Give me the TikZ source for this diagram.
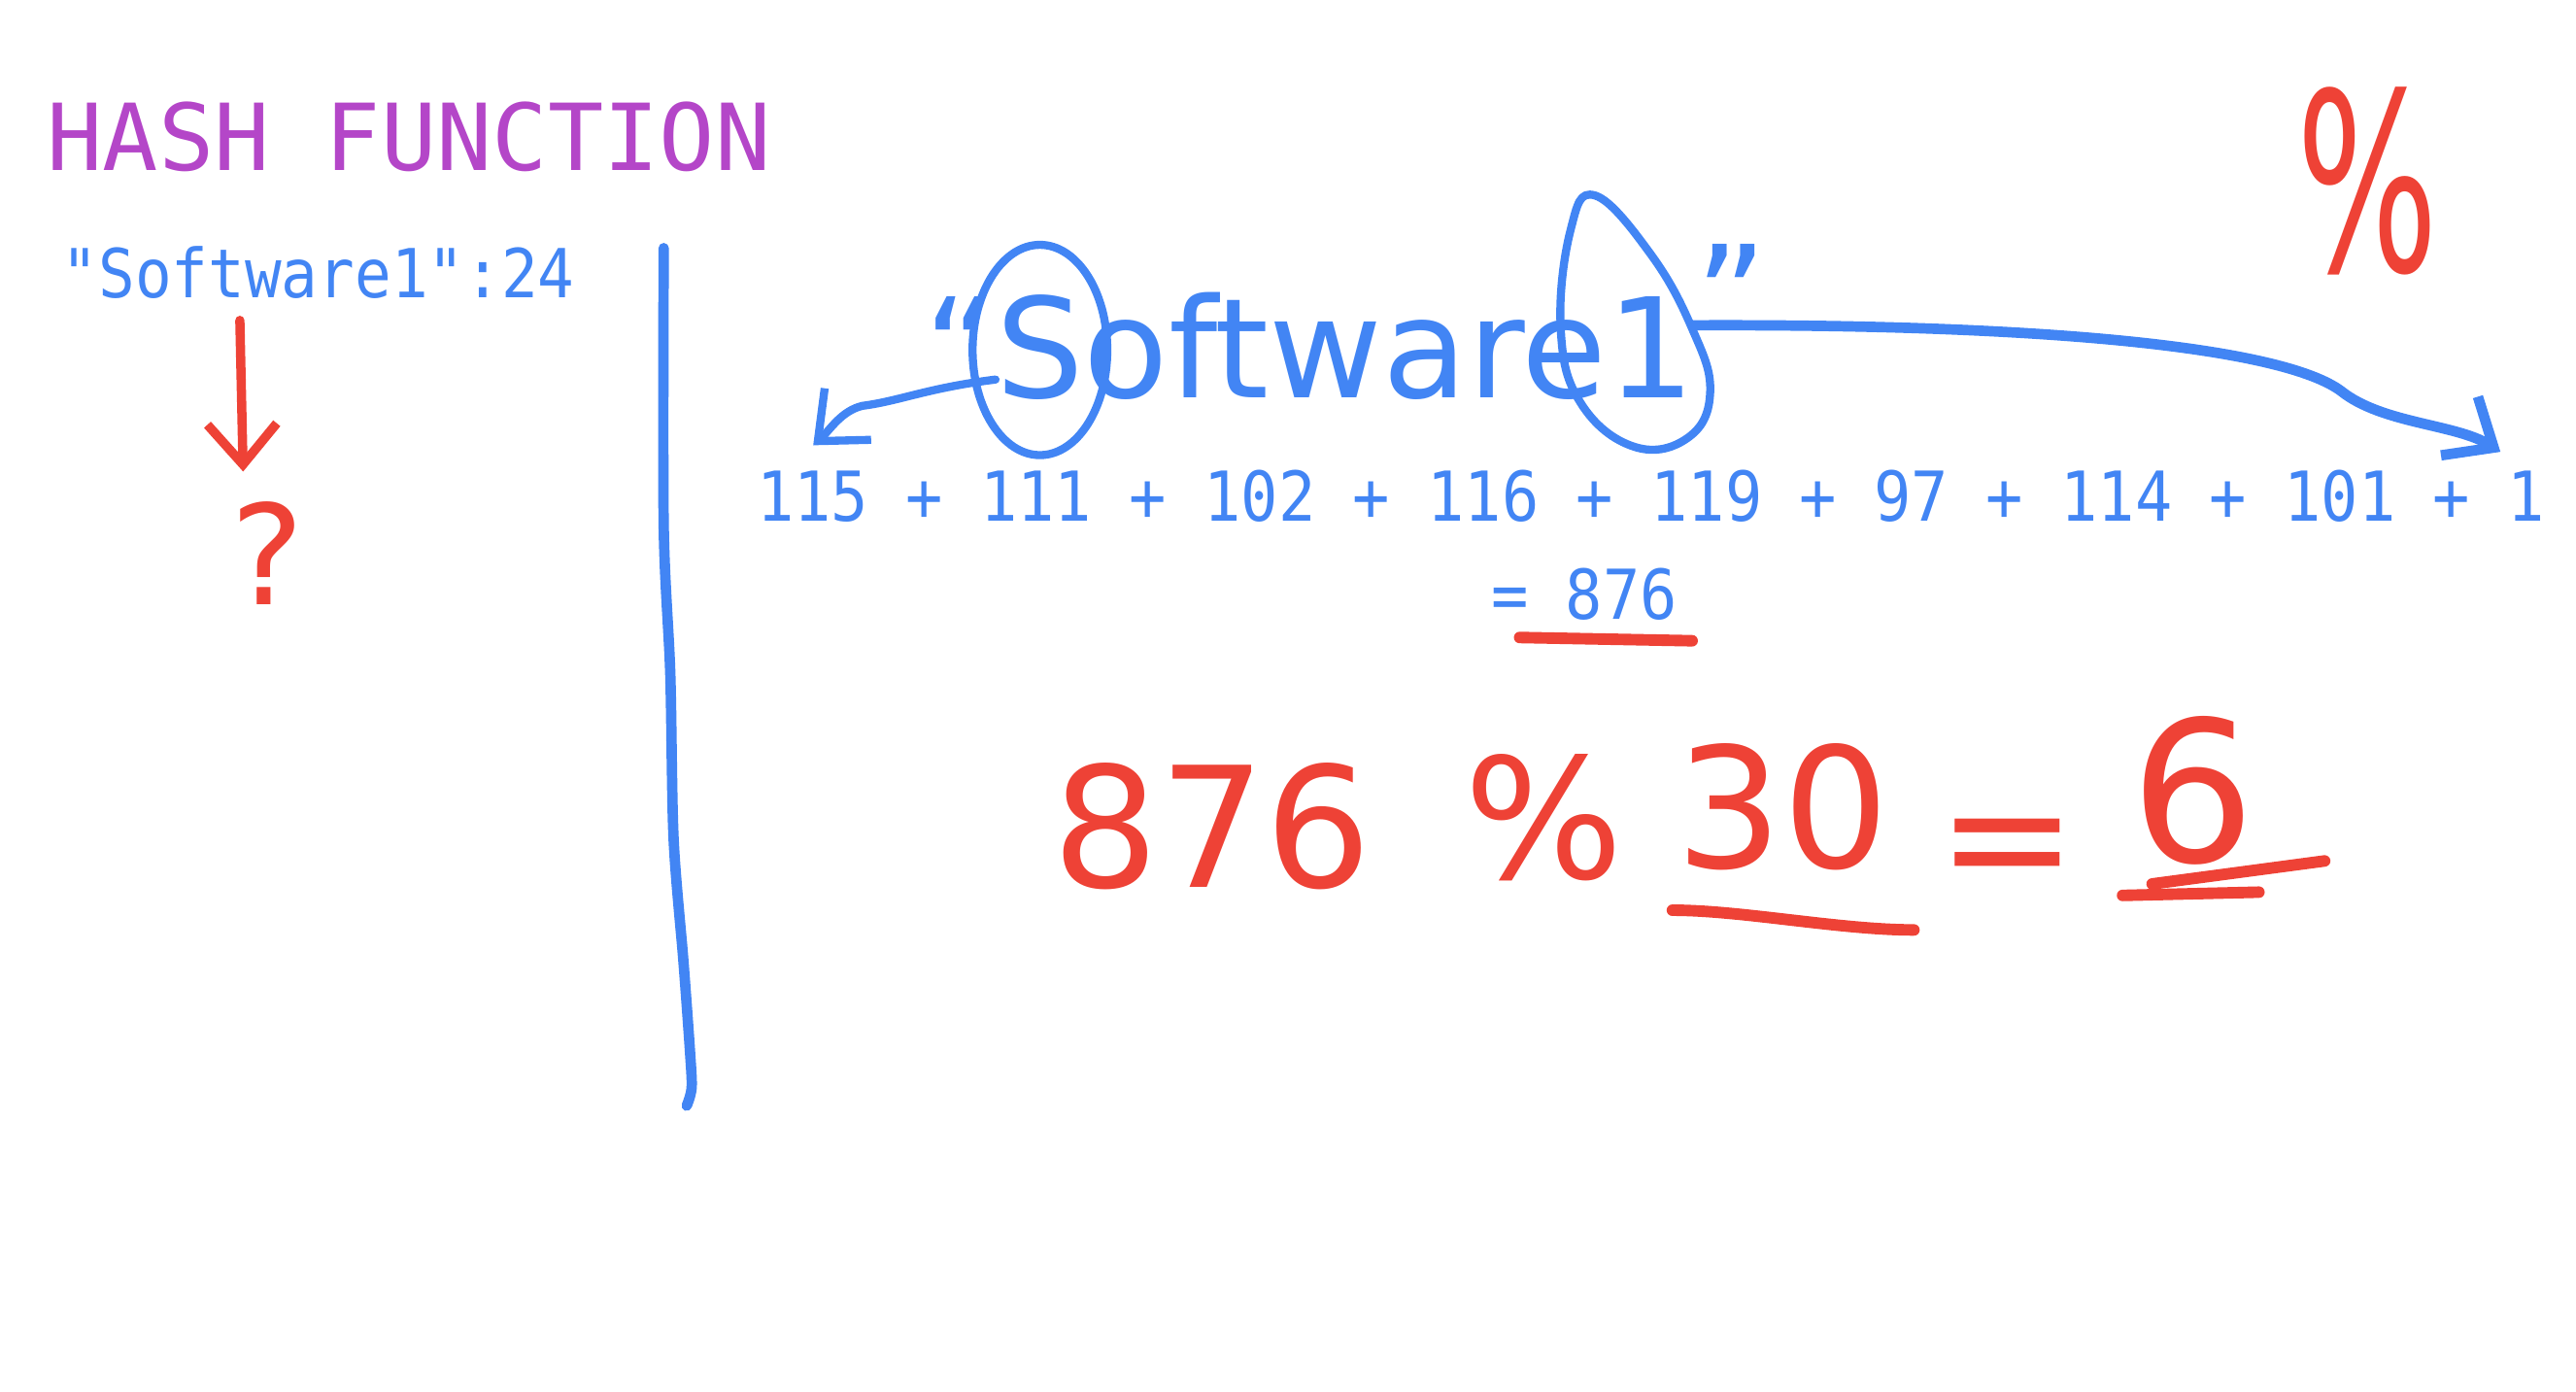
\documentclass[tikz,border=0pt]{standalone}
\usepackage{fontspec}
\usepackage{graphicx}
\usetikzlibrary{arrows.meta}
\setmainfont{DejaVu Sans}
\newfontfamily\codefont[FakeStretch=0.9]{DejaVu Sans Mono}
\newfontfamily\titlefont{DejaVu Sans Mono}
\definecolor{penblue}{RGB}{66,133,244}
\definecolor{penred}{RGB}{238,66,54}
\definecolor{titlepurple}{RGB}{180,70,200}
\begin{document}
\begin{tikzpicture}[x=0.01cm, y=-0.01cm, line join=round, line cap=round,
	bluepen/.style={draw=penblue, line width=1.4pt},
	redpen/.style={draw=penred, line width=1.6pt},
	barb/.style={-{Straight Barb[length=7pt, width=12pt]}},
	code/.style={text=penblue, inner sep=0pt, anchor=base west},
	ink/.style={inner sep=0pt, anchor=base}]
	\useasboundingbox (0,0) rectangle (1568,847);
	\path
	(146,195)coordinate(kdown)
	(148,287)coordinate(qtop)
	(606,231)coordinate(sleft)
	(495,271)coordinate(stip)
	(1030,198)coordinate(onecut)
	(1522,275)coordinate(otip)
	;
	\node[inner sep=0pt, anchor=base west, text=titlepurple, font=\titlefont\fontsize{16}{18}\selectfont] (title) at (28,104) {HASH FUNCTION};
	\node[code, font=\codefont\fontsize{11.7}{13}\selectfont] (key) at (37,181) {"Software1":24};
	\node[code, font=\codefont\fontsize{11.9}{14}\selectfont] (codes) at (460,317) {115 + 111 + 102 + 116 + 119 + 97 + 114 + 101 + 1};
	\node[code, font=\codefont\fontsize{11.9}{14}\selectfont] (total) at (907,377) {= 876};
	\node[ink, text=penblue, font=\fontsize{24}{24}\selectfont] (word) at (819,242) {“Software1\raisebox{9pt}{”}};
	\node[ink, text=penred, font=\fontsize{24}{24}\selectfont] (what) at (163,368) {?};
	\node[ink, text=penred, font=\fontsize{43}{43}\selectfont] (mod) at (1441,165) {\scalebox{0.6}[1]{\%}};
	\foreach \n/\x/\y/\t in {sum/738/540/876, pct/940/535/\%, thirty/1085/528/30, eq/1222/545/=}
		\node[ink, text=penred, font=\fontsize{29}{29}\selectfont] (\n) at (\x,\y) {\t};
	\node[ink, text=penred, font=\fontsize{34}{34}\selectfont] (res) at (1335,525) {6};
	\draw[bluepen, line width=1.8pt] plot[smooth] coordinates {(404,151) (404,320) (408,410) (410,510) (416,585) (420,640) (421,662) (418,673)};
	\draw[bluepen] (633,213) ellipse [x radius=41, y radius=64];
	\draw[bluepen] plot[smooth cycle, tension=0.7] coordinates {(971,119) (956,140) (950,200) (962,245) (995,272) (1028,266) (1041,238) (1030,200) (1005,155)};
	\draw[bluepen, barb] (sleft) .. controls (565,236) and (548,244) .. (525,247) .. controls (512,250) and (505,262) .. (stip);
	\draw[bluepen, line width=1.8pt, barb] (onecut) .. controls (1250,197) and (1390,212) .. (1425,238) .. controls (1450,258) and (1495,258) .. (otip);
	\draw[redpen, barb] (kdown) -- (qtop);
	\draw[redpen, line width=2pt] (925,388) -- (1030,390);
	\draw[redpen, line width=2pt] (1018,554) .. controls (1060,554) and (1120,566) .. (1165,566);
	\foreach \a/\b in {{(1292,545)}/{(1375,543)}, {(1310,538)}/{(1415,524)}}
		\draw[redpen, line width=2pt] \a -- \b;
\end{tikzpicture}
\end{document}
